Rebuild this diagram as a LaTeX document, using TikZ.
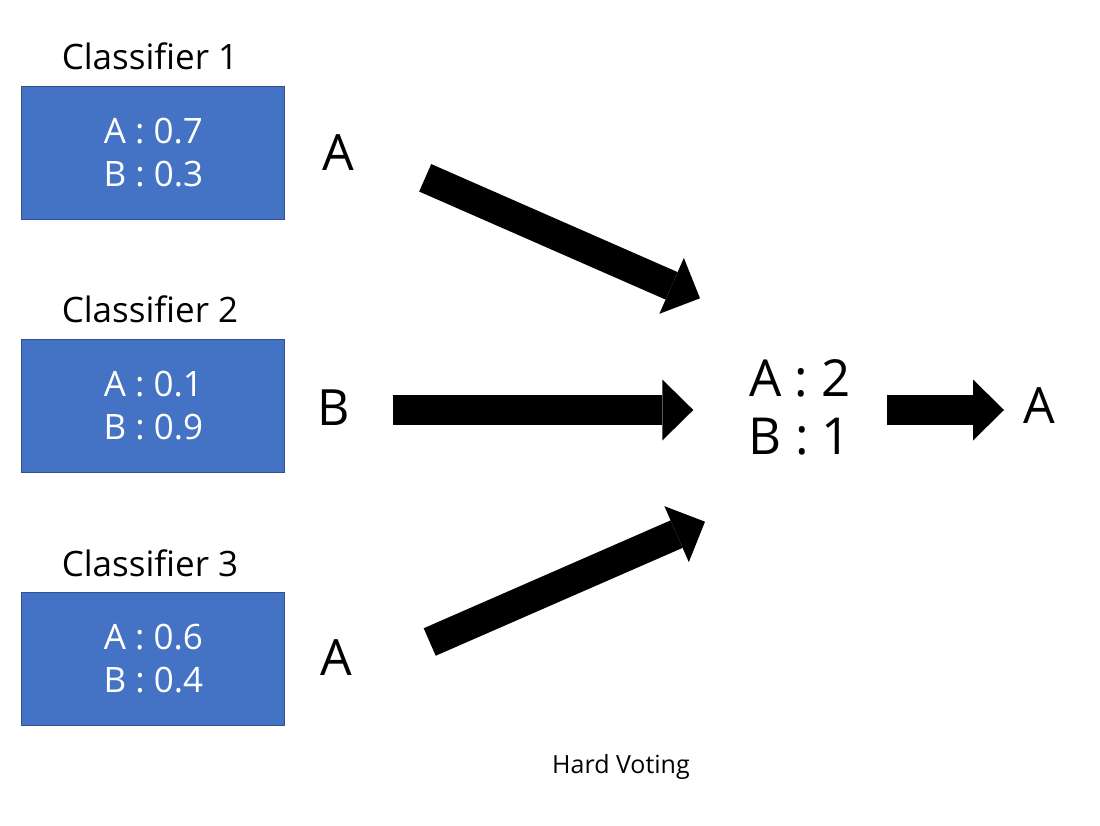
\documentclass[tikz,border=0pt]{standalone}
\usepackage{fontspec}
\setmainfont{Open Sans}
\usetikzlibrary{arrows.meta}
\definecolor{boxblue}{HTML}{4472C4}
\definecolor{boxedge}{HTML}{2F528F}
\begin{document}
\begin{tikzpicture}[x=1pt,y=-1pt,
  clf/.style={rectangle, fill=boxblue, draw=boxedge, line width=1pt,
    minimum width=263pt, minimum height=133pt, inner sep=0pt,
    text=white, align=center, font=\fontsize{35}{43.4}\selectfont},
  title/.style={anchor=base, inner sep=0pt, font=\fontsize{35}{42}\selectfont},
  vote/.style={anchor=base, inner sep=0pt, font=\fontsize{50}{60}\selectfont},
  tallystyle/.style={anchor=center, inner sep=0pt, align=center,
    font=\fontsize{51}{58.3}\selectfont},
  caption/.style={anchor=base, inner sep=0pt, font=\fontsize{25}{30}\selectfont},
  bigarrow/.style={line width=30pt,
    -{Triangle[length=31pt,width=61pt,line width=0pt]}},
]
\useasboundingbox (0,0) rectangle (1100,826);

% classifiers
\node[title] (t1) at (150,70) {Classifier 1};
\node[title] (t2) at (150,323) {Classifier 2};
\node[title] (t3) at (150,576) {Classifier 3};
\node[clf] (c1) at (153.4,152.6) {A : 0.7\\B : 0.3};
\node[clf] (c2) at (153.4,405.6) {A : 0.1\\B : 0.9};
\node[clf] (c3) at (153.4,658.6) {A : 0.6\\B : 0.4};

% votes
\node[vote] (v1) at (338,171) {A};
\node[vote] (v2) at (334,425) {B};
\node[vote] (v3) at (336,675) {A};

% tally and result
\node[tallystyle] (tally) at (800,407.5) {A : 2\\B : 1};
\node[vote] (res) at (1039,423) {A};

\node[caption] (cap) at (621,773) {Hard Voting};

% arrows
\coordinate (a1s) at (425.2,177.8);
\coordinate (a1e) at (700,298.3);
\coordinate (a2s) at (392.7,410);
\coordinate (a2e) at (693.3,410);
\coordinate (a3s) at (429.7,642);
\coordinate (a3e) at (705,521.7);
\coordinate (a4s) at (886.7,410);
\coordinate (a4e) at (1004,410);
\draw[bigarrow] (a1s) -- (a1e);
\draw[bigarrow] (a2s) -- (a2e);
\draw[bigarrow] (a3s) -- (a3e);
\draw[bigarrow] (a4s) -- (a4e);
\end{tikzpicture}
\end{document}
